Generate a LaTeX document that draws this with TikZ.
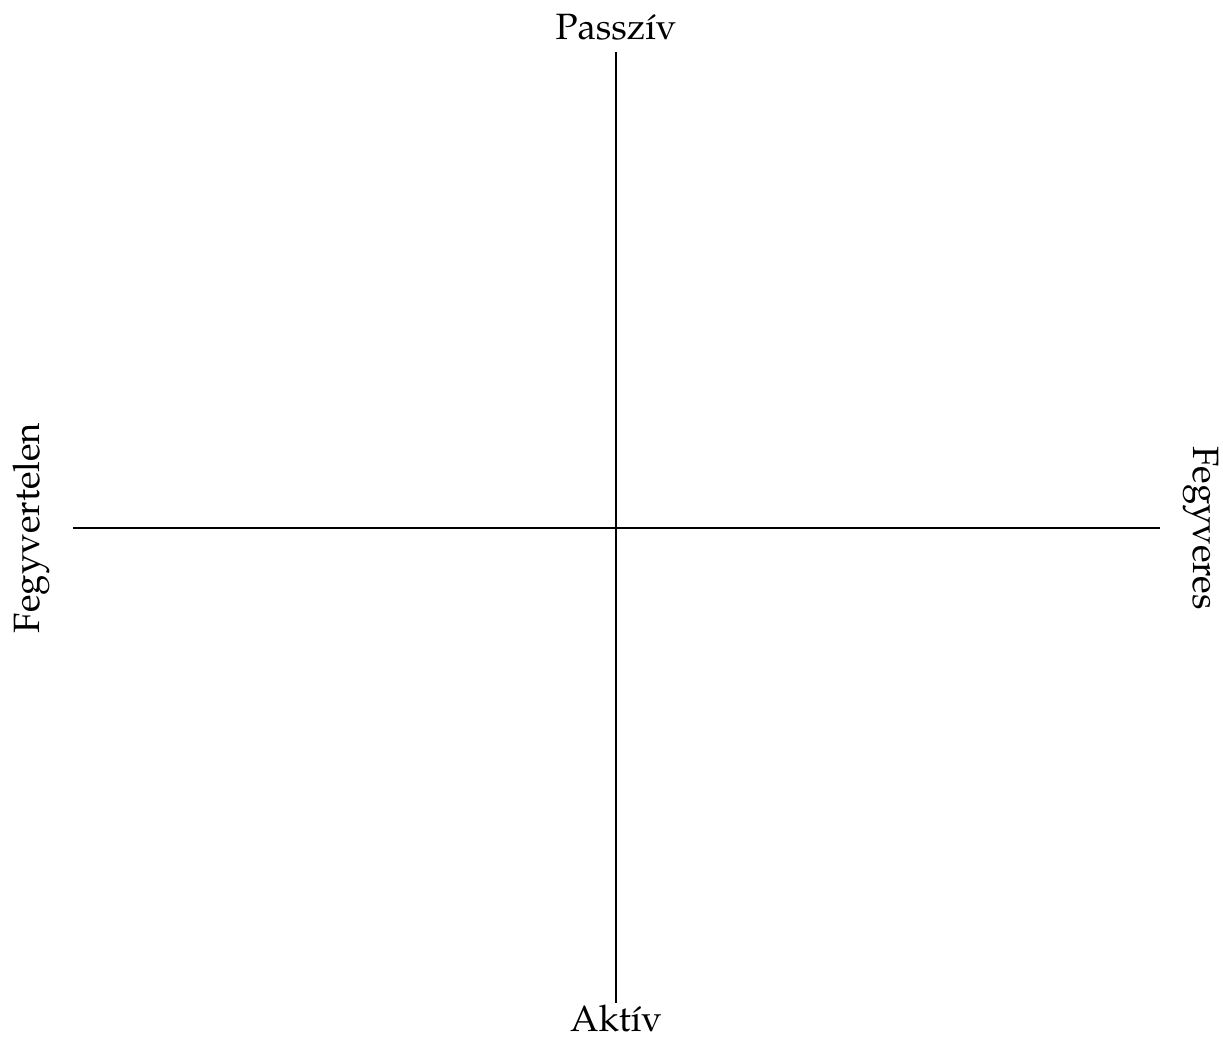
\documentclass[tikz,border=0pt]{standalone}
\usepackage[T1]{fontenc}
\usepackage{mathpazo}
\tikzset{
  axis/.style={line width=0.4pt, black},
  lbl/.style={anchor=base, inner sep=0pt, font=\normalsize}
}
\begin{document}
\begin{tikzpicture}[x=0.27322pt, y=0.27322pt]
  \useasboundingbox (0,0) rectangle (1223,1036);
  % axis end points
  \coordinate (top) at (616,984);
  \coordinate (bottom) at (616,33);
  \coordinate (left) at (73,508);
  \coordinate (right) at (1160,508);
  \draw[axis] (top) -- (bottom);
  \draw[axis] (left) -- (right);
  % labels
  \node[lbl] (passziv) at (616,996) {Passzív};
  \node[lbl] (aktiv) at (616,5) {Aktív};
  \node[lbl, rotate=90] (fegyvertelen) at (39,508) {Fegyvertelen};
  \node[lbl, rotate=-90] (fegyveres) at (1193,508) {Fegyveres};
\end{tikzpicture}
\end{document}
